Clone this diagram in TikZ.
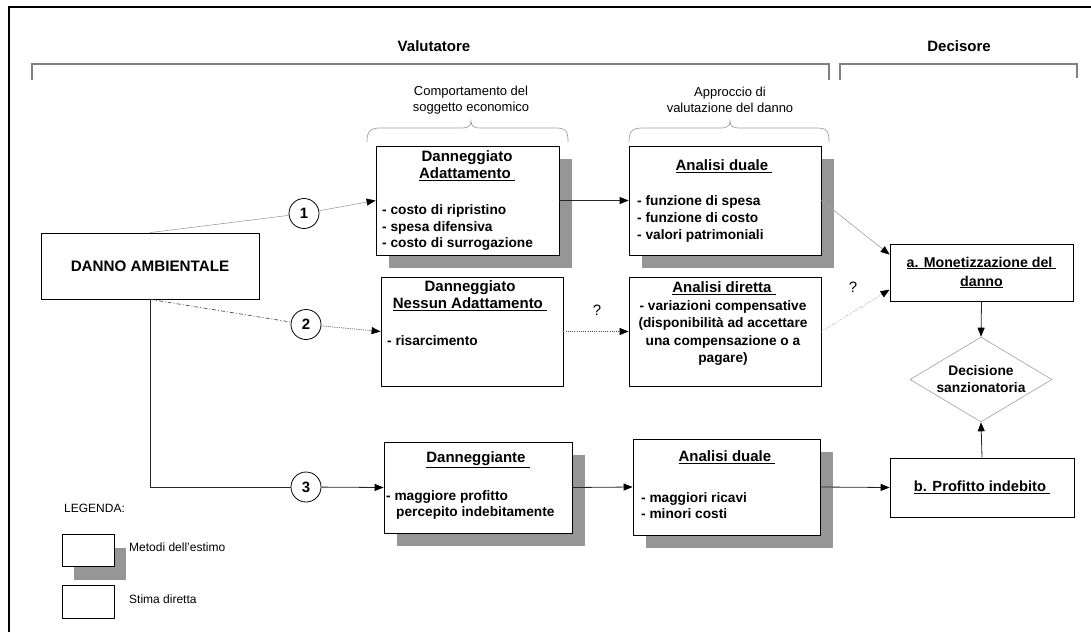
\documentclass[tikz,border=0pt]{standalone}
\usepackage{fontspec}
\setmainfont{Liberation Sans}
\usetikzlibrary{arrows.meta,shapes.geometric,shadows,calc}
\definecolor{shad}{RGB}{150,150,150}
\definecolor{thingray}{RGB}{160,160,160}
\definecolor{brk}{RGB}{128,128,128}
\definecolor{dotgray}{RGB}{80,80,80}
\begin{document}
\begin{tikzpicture}[x=1pt,y=-1pt,
  box/.style={draw=black, line width=0.8pt, fill=white, inner sep=0pt, rectangle},
  sbox/.style={box, drop shadow={shadow xshift=13pt, shadow yshift=-13pt, fill=shad, opacity=1}},
  tit/.style={font=\fontsize{15}{17}\selectfont\bfseries, align=center, inner sep=0pt},
  itm/.style={font=\fontsize{13.7}{16.6}\selectfont\bfseries, align=left, inner sep=0pt},
  lab/.style={font=\fontsize{13}{16}\selectfont, align=center, inner sep=0pt},
  leg/.style={font=\fontsize{12}{14}\selectfont, inner sep=0pt},
  num/.style={circle, draw=black, line width=0.8pt, fill=white, minimum size=30pt, inner sep=0pt, font=\fontsize{15}{17}\selectfont\bfseries},
  tip/.style={-{Triangle[length=9pt,width=7pt,color=black]}},
  solidl/.style={draw=black!85, line width=0.8pt},
  thinl/.style={draw=thingray, line width=0.6pt},
  dashdotl/.style={draw=dotgray, line width=0.7pt, dash pattern=on 4pt off 2pt on 1pt off 2pt},
  dotl/.style={draw=dotgray, line width=0.7pt, dash pattern=on 1pt off 1.2pt},
  lightdotl/.style={draw=thingray, line width=0.6pt, dash pattern=on 1pt off 1.5pt},
  brace/.style={draw=thingray, line width=0.7pt},
  bracket/.style={draw=brk, line width=1.8pt}
]
\useasboundingbox (0,0) rectangle (1091,632);
% frame
\draw[line width=1.4pt] (9,632) -- (9,7) -- (1091,7);

% headers
\node[tit] (hval) at (434,46) {Valutatore};
\node[tit] (hdec) at (959,46) {Decisore};
\draw[bracket] (32,80) -- (32,64) -- (829,64) -- (829,80);
\draw[bracket] (840,80) -- (840,64) -- (1077,64) -- (1077,78);

\node[lab] (lcomp) at (471,100) {Comportamento del\\soggetto economico};
\node[lab] (lappr) at (730,100) {Approccio di\\valutazione del danno};
\draw[brace] (367,142) .. controls (367,131) and (370,128) .. (381,128) -- (462,128)
  .. controls (468,128) and (471,126) .. (471,121)
  .. controls (471,126) and (474,128) .. (480,128) -- (555,128)
  .. controls (566,128) and (568,131) .. (568,142);
\draw[brace] (629,142) .. controls (629,131) and (632,128) .. (643,128) -- (721,128)
  .. controls (727,128) and (730,126) .. (730,121)
  .. controls (730,126) and (733,128) .. (739,128) -- (816,128)
  .. controls (827,128) and (829,131) .. (829,142);

% main boxes
\node[box, minimum width=218pt, minimum height=66pt, font=\fontsize{15.2}{17}\selectfont\bfseries] (danno) at (150,266) {DANNO AMBIENTALE};

\node[sbox, minimum width=183pt, minimum height=109pt] (b1) at (467.5,200.5) {};
\node[tit] (b1t) at (467,165.5) {Danneggiato\\\underline{Adattamento\ }};
\node[itm, anchor=west] (b1i) at (382,227.5) {- costo di ripristino\\- spesa difensiva\\- costo di surrogazione};

\node[sbox, minimum width=192pt, minimum height=109pt] (b2) at (725,200.5) {};
\node[tit] (b2t) at (724,166) {\underline{Analisi duale\ }};
\node[itm, anchor=west] (b2i) at (637,219) {- funzione di spesa\\- funzione di costo\\- valori patrimoniali};

\node[box, minimum width=182pt, minimum height=109pt] (b3) at (472,331.5) {};
\node[tit] (b3t) at (470,296) {Danneggiato\\\underline{Nessun Adattamento\ }};
\node[itm, anchor=west] (b3i) at (387,341) {- risarcimento};

\node[box, minimum width=192pt, minimum height=109pt] (b4) at (725,331.5) {};
\node[tit] (b4t) at (724,288) {\underline{Analisi diretta\ }};
\node[itm, align=center, font=\fontsize{13.7}{17.3}\selectfont\bfseries] (b4i) at (723,333) {- variazioni compensative\\(disponibilità ad accettare\\una compensazione o a\\pagare)};

\node[sbox, minimum width=188pt, minimum height=91pt] (b5) at (478,487.5) {};
\node[tit] (b5t) at (478,460) {\underline{Danneggiante\ }};
\node[itm, anchor=west] (b5i) at (386,505) {- maggiore profitto\\\hspace*{10pt}percepito indebitamente};

\node[sbox, minimum width=187pt, minimum height=96pt] (b6) at (726.5,487) {};
\node[tit] (b6t) at (727,457) {\underline{Analisi duale\ }};
\node[itm, anchor=west] (b6i) at (641,505.5) {- maggiori ricavi\\- minori costi};

\node[box, minimum width=183pt, minimum height=57pt, font=\fontsize{14.2}{19}\selectfont\bfseries, align=center] (mon) at (981.5,272.5) {\underline{a. Monetizzazione del\ }\\\underline{danno}};
\node[box, minimum width=184pt, minimum height=59pt, font=\fontsize{14.7}{17}\selectfont\bfseries] (b7) at (982,487.5) {\underline{b. Profitto indebito\ }};

\node[diamond, draw=thingray, line width=0.6pt, fill=white, minimum width=142pt, minimum height=85pt, aspect=1.67, inner sep=0pt, align=center, font=\fontsize{13.8}{17}\selectfont\bfseries] (dec) at (981,379.5) {Decisione\\sanzionatoria};

% circles
\node[num] (c1) at (304,213.5) {1};
\node[num] (c2) at (306,324.5) {2};
\node[num] (c3) at (306,487) {3};

% question marks
\node[font=\fontsize{15}{17}\selectfont, inner sep=0pt] (q1) at (597,310) {?};
\node[font=\fontsize{15}{17}\selectfont, inner sep=0pt] (q2) at (853,287) {?};

% connectors
\draw[thinl] (danno.north) -- (c1);
\draw[thinl, tip] (c1) -- (b1.west);
\draw[dashdotl] (danno.south) -- (c2);
\draw[dotl, tip] (c2) -- (b3.west);
\draw[solidl] (danno.south) |- (c3);
\draw[solidl, tip] (c3) -- (b5.west);
\draw[solidl, tip] (b1.east) -- (b2.west);
\draw[dotl, tip] (b3.east) -- (b4.west);
\draw[solidl, tip] (b5.east) -- (b6.west);
\draw[solidl, tip] (b6.east) -- (b7.west);
\draw[solidl, tip] (mon.south) -- (dec.north);
\draw[solidl, tip] (b7.north) -- (dec.south);
\coordinate (m1) at ($(mon.north west)+(0,11)$);
\coordinate (m2) at ($(mon.north west)+(0,46)$);
\draw[thinl, tip] (b2.east) -- (m1);
\draw[lightdotl, tip] (b4.east) -- (m2);

% legend
\node[leg, anchor=west] (legt) at (64,508) {LEGENDA:};
\node[box, line width=0.6pt, minimum width=52pt, minimum height=32pt, drop shadow={shadow xshift=12pt, shadow yshift=-14pt, fill=shad, opacity=1}] (lb1) at (88,550) {};
\node[leg, anchor=west] (lt1) at (129,547) {Metodi dell'estimo};
\node[box, line width=0.6pt, minimum width=52pt, minimum height=33pt] (lb2) at (88,601.5) {};
\node[leg, anchor=west] (lt2) at (129,599) {Stima diretta};
\end{tikzpicture}
\end{document}
